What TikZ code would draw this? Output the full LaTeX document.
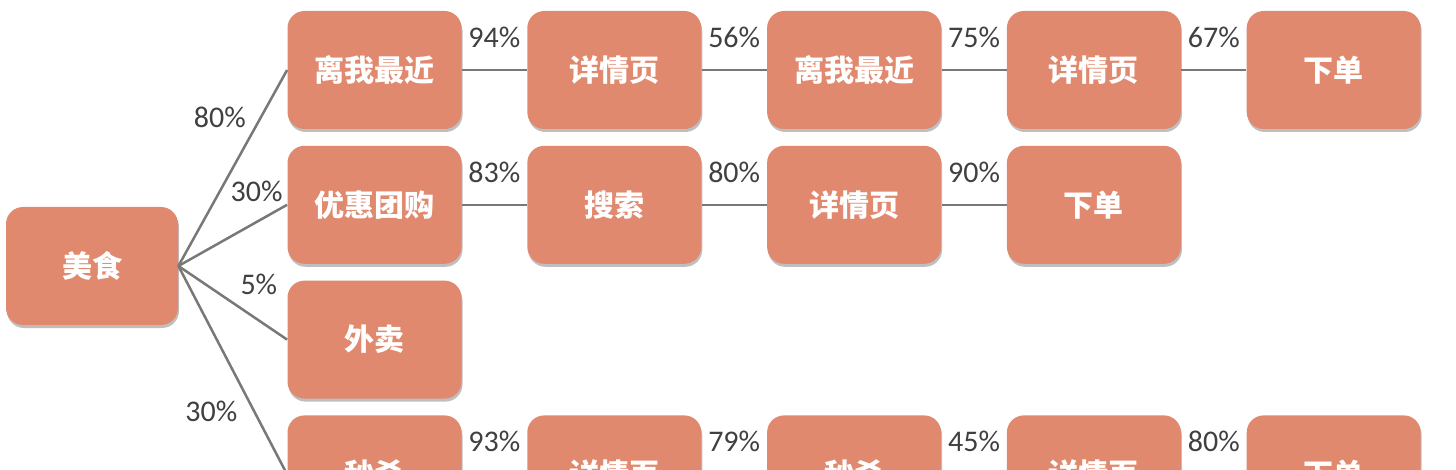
\documentclass[tikz,border=0pt]{standalone}
\usepackage{fontspec}
\setmainfont{Carlito}
\newfontfamily\cjk{Noto Sans CJK SC}
\usepackage{tikz}
\usetikzlibrary{positioning, shadows}
\definecolor{salmon}{HTML}{E0896E}
\definecolor{linkgray}{HTML}{787878}
\definecolor{pctgray}{HTML}{404040}

\begin{document}
\begin{tikzpicture}[
        node distance=8pt and 32.5pt,
        box/.style={rectangle, rounded corners=8.5pt, fill=salmon,
            minimum width=87pt, minimum height=59pt, text centered,
            text=white, font=\cjk\bfseries\fontsize{15pt}{18pt}\selectfont,
            drop shadow={shadow xshift=0.5pt, shadow yshift=-1.5pt,
                fill=black, opacity=0.25}},
        pct/.style={font=\fontsize{15pt}{18pt}\selectfont, text=pctgray,
            inner sep=1pt},
        link/.style={draw=linkgray, line width=1.25pt}
    ]
    \useasboundingbox (0,0) rectangle (728pt,-235pt);
    \clip (0,0) rectangle (728pt,-235pt);
    \node (mei)  [box, minimum width=86pt] at (46pt,-133pt) {美食};
    \node (r1c1) [box] at (187.25pt,-35pt) {离我最近};
    \node (r2c1) [box, below=of r1c1] {优惠团购};
    \node (r3c1) [box, below=of r2c1] {外卖};
    \node (r4c1) [box, below=of r3c1] {秒杀};
    % row 1
    \node (r1c2) [box, right=of r1c1] {详情页};
    \node (r1c3) [box, right=of r1c2] {离我最近};
    \node (r1c4) [box, right=of r1c3] {详情页};
    \node (r1c5) [box, right=of r1c4] {下单};
    % row 2
    \node (r2c2) [box, right=of r2c1] {搜索};
    \node (r2c3) [box, right=of r2c2] {详情页};
    \node (r2c4) [box, right=of r2c3] {下单};
    % row 4
    \node (r4c2) [box, right=of r4c1] {详情页};
    \node (r4c3) [box, right=of r4c2] {秒杀};
    \node (r4c4) [box, right=of r4c3] {详情页};
    \node (r4c5) [box, right=of r4c4] {下单};
    \draw [link] (mei.east) -- node[pct, pos=0.76, left=6pt]{80\%} (r1c1.west);
    \draw [link] (mei.east) -- node[pct, pos=0.72, above=8.5pt]{30\%} (r2c1.west);
    \draw [link] (mei.east) -- node[pct, pos=0.74, above=11pt]{5\%} (r3c1.west);
    \draw [link] (mei.east) -- node[pct, pos=0.70, left=7pt]{30\%} (r4c1.west);
    \draw [link] (r1c1) -- node[pct, above=9.5pt]{94\%} (r1c2);
    \draw [link] (r1c2) -- node[pct, above=9.5pt]{56\%} (r1c3);
    \draw [link] (r1c3) -- node[pct, above=9.5pt]{75\%} (r1c4);
    \draw [link] (r1c4) -- node[pct, above=9.5pt]{67\%} (r1c5);
    \draw [link] (r2c1) -- node[pct, above=9.5pt]{83\%} (r2c2);
    \draw [link] (r2c2) -- node[pct, above=9.5pt]{80\%} (r2c3);
    \draw [link] (r2c3) -- node[pct, above=9.5pt]{90\%} (r2c4);
    \draw [link] (r4c1) -- node[pct, above=9.5pt]{93\%} (r4c2);
    \draw [link] (r4c2) -- node[pct, above=9.5pt]{79\%} (r4c3);
    \draw [link] (r4c3) -- node[pct, above=9.5pt]{45\%} (r4c4);
    \draw [link] (r4c4) -- node[pct, above=9.5pt]{80\%} (r4c5);
\end{tikzpicture}
\end{document}
